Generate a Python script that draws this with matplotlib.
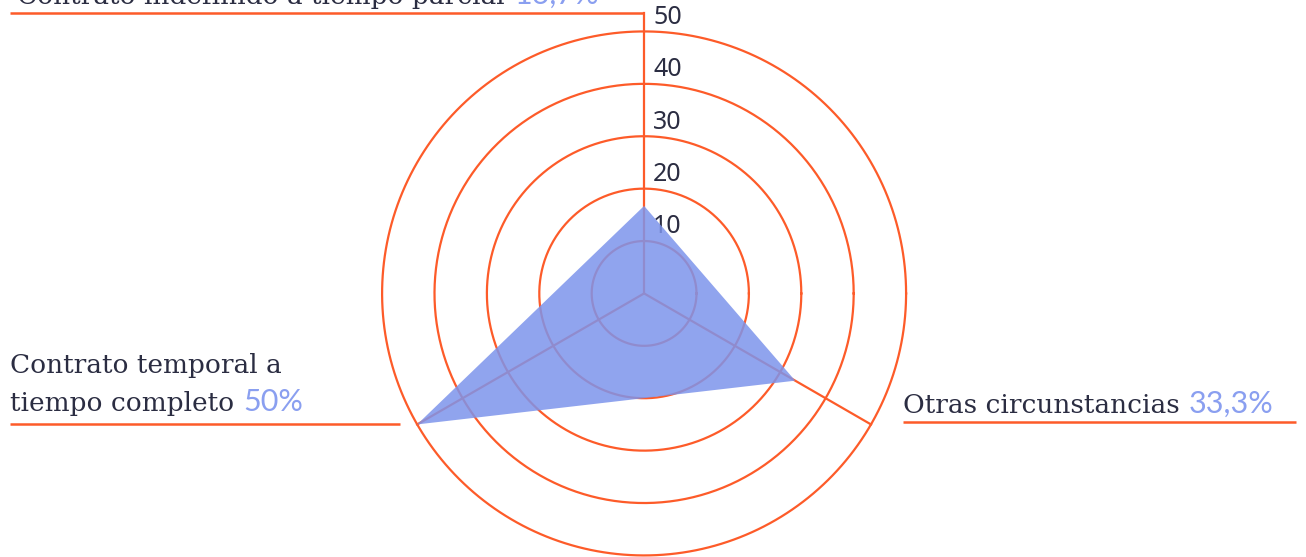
import matplotlib.pyplot as plt
import numpy as np

# contract types and their share (%)
label_lines = [
    ["Contrato indefinido a tiempo parcial"],
    ["Otras circunstancias"],
    ["Contrato temporal a", "tiempo completo"],
]
values = [16.7, 33.3, 50.0]
value_labels = ["16,7%", "33,3%", "50%"]
angles_deg = [90, -30, 210]
rings = [10, 20, 30, 40, 50]

ORANGE = "#fd5b29"
FILL = "#7d94eb"
INK = "#2b2d42"
PCT = "#8a9ff0"

fig = plt.figure(figsize=(13.06, 5.57), dpi=100)
ax = fig.add_axes([0, 0, 1, 1])
ax.set_xlim(-122.9, 126.3)
ax.set_ylim(-50.3, 56.0)
ax.set_aspect("equal")
ax.axis("off")

# concentric rings + scale numbers
theta = np.linspace(0, 2 * np.pi, 500)
for r in rings:
    ax.plot(r * np.cos(theta), r * np.sin(theta), color=ORANGE, lw=1.6, zorder=1)
    ax.text(1.7, r + 2.7, str(r), color=INK, fontsize=18, family="Noto Sans",
            ha="left", va="center", zorder=1)

# spokes
ang = np.deg2rad(angles_deg)
spoke_len = [53.5, 50.0, 50.0]
for a, L in zip(ang, spoke_len):
    ax.plot([0, L * np.cos(a)], [0, L * np.sin(a)], color=ORANGE, lw=1.6, zorder=1)

# data polygon
px = np.array(values) * np.cos(ang)
py = np.array(values) * np.sin(ang)
ax.fill(px, py, color=FILL, alpha=0.85, lw=0, zorder=2)

# label blocks: text start x, baseline of last line, underline y and x range
blocks = [
    dict(x=-119.6, base=55.2, uy=53.5, ux=(-121.0, 0.0)),
    dict(x=49.4, base=-22.8, uy=-24.5, ux=(49.4, 124.4)),
    dict(x=-121.0, base=-22.5, uy=-24.9, ux=(-121.0, -46.6)),
]
line_step = 7.4

fig.canvas.draw()
renderer = fig.canvas.get_renderer()
inv = ax.transData.inverted()

for lines, pct, b in zip(label_lines, value_labels, blocks):
    ax.plot(b["ux"], [b["uy"], b["uy"]], color=ORANGE, lw=1.8, zorder=1,
            solid_capstyle="butt")
    n = len(lines)
    last = None
    for i, line in enumerate(lines):
        y = b["base"] + (n - 1 - i) * line_step
        last = ax.text(b["x"], y, line, color=INK, fontsize=19, family="DejaVu Serif",
                       ha="left", va="baseline", zorder=3)
    bb = last.get_window_extent(renderer)
    x_end = inv.transform((bb.x1, bb.y0))[0]
    ax.text(x_end + 1.8, b["base"], pct, color=PCT, fontsize=22, family="Lato",
            ha="left", va="baseline", zorder=3)

fig.savefig("out.png", dpi=100)
